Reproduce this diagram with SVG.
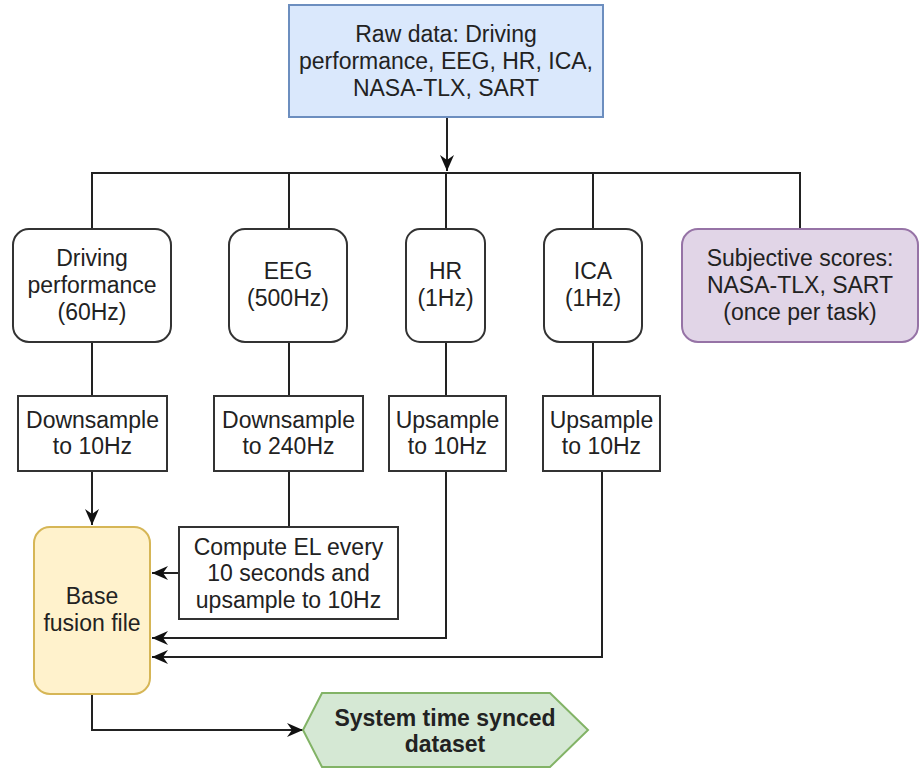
<svg xmlns="http://www.w3.org/2000/svg" width="920" height="770" viewBox="0 0 920 770">
<style>
text{font-family:"Liberation Sans",Arial,sans-serif;font-size:23px;fill:#222;text-anchor:middle}
.b{font-weight:bold}
.box{fill:#fff;stroke:#333;stroke-width:2}
.blue{fill:#dae8fc;stroke:#6c8ebf;stroke-width:2}
.purple{fill:#e1d5e7;stroke:#9673a6;stroke-width:2}
.yellow{fill:#fff2cc;stroke:#d6b656;stroke-width:2}
.green{fill:#d5e8d4;stroke:#82b366;stroke-width:2}
.c{fill:none;stroke:#222;stroke-width:2}
</style>
<defs>
<marker id="ah" viewBox="0 0 16 14" refX="16" refY="7" markerWidth="16" markerHeight="14" markerUnits="userSpaceOnUse" orient="auto">
<path d="M0,0 L16,7 L0,14 L5,7 z" fill="#111"/>
</marker>
</defs>
<g id="connectors">
<path class="c" d="M447,117 V171" marker-end="url(#ah)"/>
<path class="c" d="M92,229 V173 H800 V229"/>
<path class="c" d="M289,173 V229"/>
<path class="c" d="M446,173 V229"/>
<path class="c" d="M593,173 V229"/>
<path class="c" d="M92,342 V396"/>
<path class="c" d="M289,342 V396"/>
<path class="c" d="M446,342 V396"/>
<path class="c" d="M593,342 V396"/>
<path class="c" d="M92,471 V525" marker-end="url(#ah)"/>
<path class="c" d="M289,471 V527"/>
<path class="c" d="M179,573 H152" marker-end="url(#ah)"/>
<path class="c" d="M446,471 V638 H152" marker-end="url(#ah)"/>
<path class="c" d="M602,471 V657 H152" marker-end="url(#ah)"/>
<path class="c" d="M92,694 V730 H303" marker-end="url(#ah)"/>
</g>
<g id="raw">
<rect class="blue" x="289" y="5" width="314" height="112"/>
<text x="446" y="42">Raw data: Driving</text>
<text x="446" y="69">performance, EEG, HR, ICA,</text>
<text x="446" y="96">NASA-TLX, SART</text>
</g>
<g id="driving">
<rect class="box" x="13" y="229" width="158" height="113" rx="16"/>
<text x="92" y="266">Driving</text>
<text x="92" y="293">performance</text>
<text x="92" y="320">(60Hz)</text>
</g>
<g id="eeg">
<rect class="box" x="229" y="229" width="118" height="113" rx="16"/>
<text x="288" y="279">EEG</text>
<text x="288" y="306">(500Hz)</text>
</g>
<g id="hr">
<rect class="box" x="406" y="229" width="79" height="113" rx="14"/>
<text x="445.5" y="279">HR</text>
<text x="445.5" y="306">(1Hz)</text>
</g>
<g id="ica">
<rect class="box" x="544" y="229" width="98" height="113" rx="16"/>
<text x="593" y="279">ICA</text>
<text x="593" y="306">(1Hz)</text>
</g>
<g id="subjective">
<rect class="purple" x="682" y="229" width="236" height="113" rx="16"/>
<text x="800" y="266">Subjective scores:</text>
<text x="800" y="293">NASA-TLX, SART</text>
<text x="800" y="320">(once per task)</text>
</g>
<g id="down1">
<rect class="box" x="18" y="396" width="149" height="75"/>
<text x="92.5" y="428">Downsample</text>
<text x="92.5" y="454">to 10Hz</text>
</g>
<g id="down2">
<rect class="box" x="214" y="396" width="149" height="75"/>
<text x="288.5" y="428">Downsample</text>
<text x="288.5" y="454">to 240Hz</text>
</g>
<g id="up1">
<rect class="box" x="389" y="396" width="117" height="75"/>
<text x="447.5" y="428">Upsample</text>
<text x="447.5" y="454">to 10Hz</text>
</g>
<g id="up2">
<rect class="box" x="543" y="396" width="117" height="75"/>
<text x="601.5" y="428">Upsample</text>
<text x="601.5" y="454">to 10Hz</text>
</g>
<g id="compute">
<rect class="box" x="179" y="527" width="219" height="92"/>
<text x="288.5" y="555">Compute EL every</text>
<text x="288.5" y="581">10 seconds and</text>
<text x="288.5" y="608">upsample to 10Hz</text>
</g>
<g id="base">
<rect class="yellow" x="34" y="527" width="116" height="167" rx="16"/>
<text x="92" y="604">Base</text>
<text x="92" y="631">fusion file</text>
</g>
<g id="synced">
<polygon class="green" points="303,730 322,693 550,693 588,730 550,767 322,767"/>
<text class="b" x="445" y="726">System time synced</text>
<text class="b" x="445" y="752">dataset</text>
</g>
</svg>
